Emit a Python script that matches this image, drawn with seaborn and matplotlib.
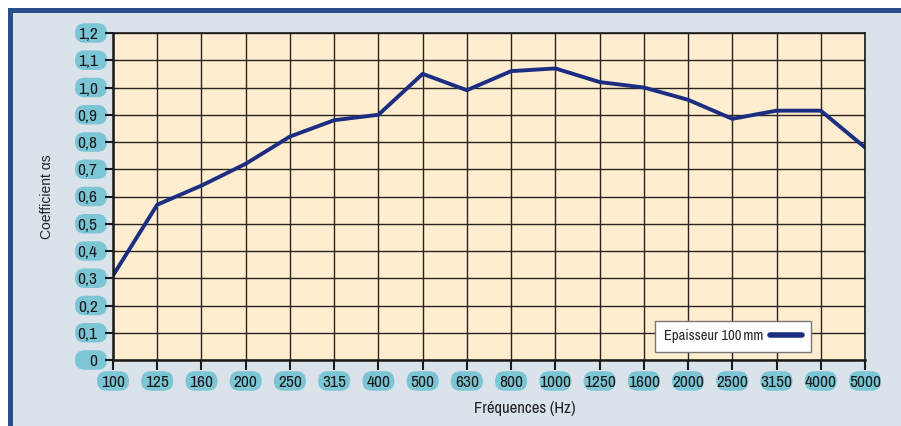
import pandas as pd
import matplotlib.pyplot as plt
import matplotlib.transforms as mtransforms
from matplotlib.patches import FancyBboxPatch, Rectangle
import seaborn as sns

# Frequencies (Hz) and sound absorption coefficient
frequencies = ['100', '125', '160', '200', '250', '315', '400', '500', '630',
               '800', '1000', '1250', '1600', '2000', '2500', '3150', '4000', '5000']
alpha_s = [0.31, 0.57, 0.64, 0.72, 0.82, 0.88, 0.90, 1.05, 0.99,
           1.06, 1.07, 1.02, 1.00, 0.955, 0.885, 0.915, 0.915, 0.78]
y_ticks = [0, 0.1, 0.2, 0.3, 0.4, 0.5, 0.6, 0.7, 0.8, 0.9, 1.0, 1.1, 1.2]
y_tick_labels = ['0', '0,1', '0,2', '0,3', '0,4', '0,5', '0,6', '0,7', '0,8',
                 '0,9', '1,0', '1,1', '1,2']
series_name = 'Epaisseur 100\u2009mm'

df = pd.DataFrame({'freq': frequencies, 'alpha': alpha_s})

sns.set_style('white')
plt.rcParams['font.family'] = ['Archivo Narrow', 'Liberation Sans', 'DejaVu Sans']

fig = plt.figure(figsize=(9.01, 4.26), dpi=100)
fig.patch.set_facecolor('white')

# outer blue frame
fig.patches.append(Rectangle((9.5 / 901, -0.2), 1.5, 1.2 - 9.5 / 426,
                             transform=fig.transFigure, facecolor='#dae2ea',
                             edgecolor='#2a4f8a', linewidth=3.6, zorder=-5))

ax = fig.add_axes([113 / 901, 1 - 360 / 426, 752 / 901, 327 / 426])
ax.set_facecolor('#feedcf')
ax.set_axisbelow(True)

sns.lineplot(data=df, x='freq', y='alpha', ax=ax, color='#1c2e82',
             linewidth=2.8, label=series_name, sort=False)

ax.set_xlim(0, len(frequencies) - 1)
ax.set_ylim(0, 1.2)
ax.set_xticks(range(len(frequencies)))
ax.set_xticklabels(frequencies)
ax.set_yticks(y_ticks)
ax.set_yticklabels(y_tick_labels)
ax.grid(True, color='#2a2420', linewidth=1)

for s in ax.spines.values():
    s.set_color('#1a1a1a')
    s.set_linewidth(1.2)
ax.spines['left'].set_linewidth(1.8)
ax.spines['bottom'].set_linewidth(1.8)

ax.tick_params(axis='x', direction='out', length=7, width=1.5, color='#1a1a1a',
               labelsize=12.5, pad=3.5, labelcolor='#1a1a1a', bottom=True)
ax.tick_params(axis='y', direction='out', length=6, width=1.5, color='#1a1a1a',
               labelsize=12.5, pad=5, labelcolor='#1a1a1a', left=True)

# rounded boxes behind tick labels
box_w, box_h = 0.32, 0.195
for i in range(len(frequencies)):
    tr = fig.dpi_scale_trans + mtransforms.ScaledTranslation(
        i, (360 - 381) / 327, ax.get_xaxis_transform())
    ax.add_patch(FancyBboxPatch((-box_w / 2, -box_h / 2), box_w, box_h,
                                boxstyle='round,pad=0,rounding_size=0.095',
                                transform=tr, facecolor='#7cc5d5',
                                edgecolor='none', clip_on=False, zorder=0.3))
for v in y_ticks:
    tr = fig.dpi_scale_trans + mtransforms.ScaledTranslation(
        (91 - 113) / 752, v, ax.get_yaxis_transform())
    ax.add_patch(FancyBboxPatch((-box_w / 2, -box_h / 2), box_w, box_h,
                                boxstyle='round,pad=0,rounding_size=0.095',
                                transform=tr, facecolor='#7cc5d5',
                                edgecolor='none', clip_on=False, zorder=0.3))

ax.set_xlabel('Fréquences (Hz)', fontsize=12, color='#222222')
ax.xaxis.set_label_coords((525 - 113) / 752, (360 - 408) / 327)
ax.xaxis.label.set_va('center')
ax.set_ylabel('Coefficient \u03b1s', fontsize=10, color='#222222',
              family=['Liberation Sans', 'DejaVu Sans'])
ax.yaxis.set_label_coords((47 - 113) / 752, 0.5)
ax.yaxis.label.set_va('center')

leg = ax.legend(loc='lower right', bbox_to_anchor=((811 - 113) / 752, (360 - 352) / 327),
                borderaxespad=0, markerfirst=False, fontsize=10.5, frameon=True,
                fancybox=False, edgecolor='#777777', framealpha=1,
                handlelength=2.2, handletextpad=0.5, borderpad=0.6)
leg.get_frame().set_linewidth(1)
for line in leg.get_lines():
    line.set_linewidth(4)
    line.set_solid_capstyle('round')

fig.savefig('out.png', dpi=100)
